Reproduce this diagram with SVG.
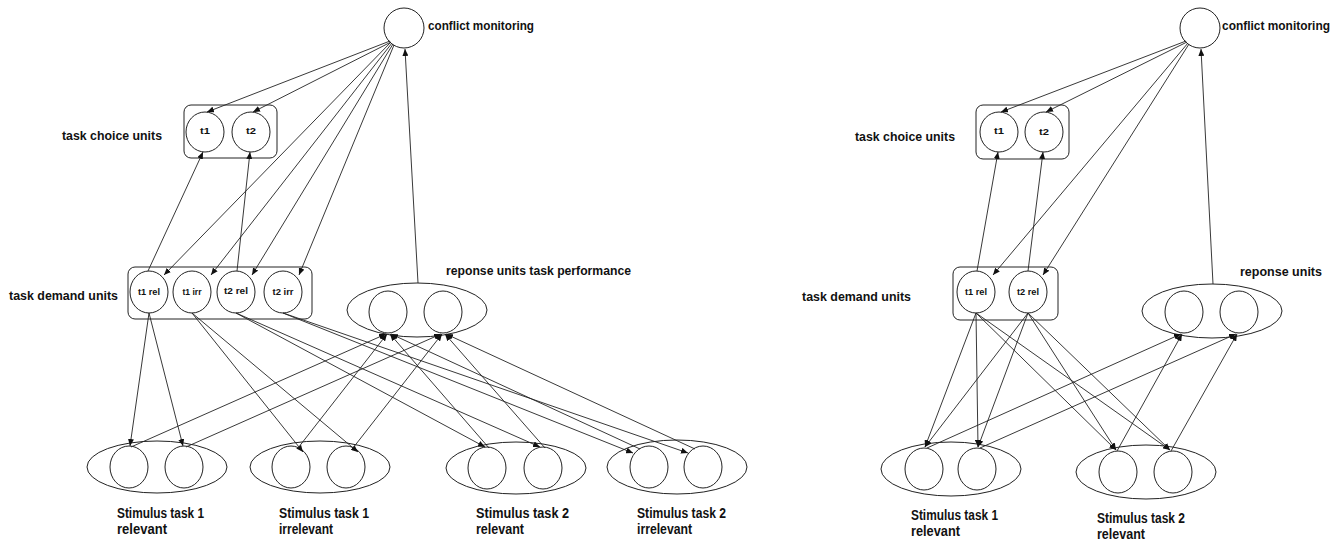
<svg xmlns="http://www.w3.org/2000/svg" width="1339" height="540" viewBox="0 0 1339 540">
<defs>
<marker id="arr" markerUnits="userSpaceOnUse" markerWidth="7" markerHeight="6" refX="7" refY="3" orient="auto">
<path d="M0,0 L7,3 L0,6 z" fill="#111"/>
</marker>
<style>
.u{fill:#fff;stroke:#222;stroke-width:1}
.g{fill:none;stroke:#222;stroke-width:1}
.c line{stroke:#222;stroke-width:0.9;marker-end:url(#arr)}
.lb{font-family:"Liberation Sans",Arial,sans-serif;font-weight:bold;font-size:13px;fill:#111}
.st{font-family:"Liberation Sans",Arial,sans-serif;font-weight:bold;font-size:14px;fill:#111}
.sm{font-family:"Liberation Sans",Arial,sans-serif;font-weight:bold;font-size:9px;fill:#111;text-anchor:middle}
</style>
</defs>
<rect width="1339" height="540" fill="#fff"/>

<!-- LEFT DIAGRAM -->
<g id="L_conflict">
<ellipse class="u" cx="404" cy="28" rx="20" ry="20"/>
<text class="lb" x="428" y="30" textLength="106" lengthAdjust="spacingAndGlyphs">conflict monitoring</text>
</g>
<g id="L_taskchoice">
<rect class="g" x="184" y="105" width="93" height="53" rx="7"/>
<ellipse class="u" cx="205" cy="132" rx="19" ry="20"/>
<ellipse class="u" cx="251" cy="132" rx="19" ry="20"/>
<text class="sm" x="205" y="134" textLength="10" lengthAdjust="spacingAndGlyphs">t1</text>
<text class="sm" x="251" y="134" textLength="10" lengthAdjust="spacingAndGlyphs">t2</text>
<text class="lb" x="62" y="140" textLength="100" lengthAdjust="spacingAndGlyphs">task choice units</text>
</g>
<g id="L_taskdemand">
<rect class="g" x="128" y="267" width="184" height="52" rx="7"/>
<ellipse class="u" cx="149" cy="292" rx="19" ry="21"/>
<ellipse class="u" cx="192" cy="292" rx="19" ry="21"/>
<ellipse class="u" cx="236" cy="292" rx="19" ry="21"/>
<ellipse class="u" cx="283" cy="292" rx="19" ry="21"/>
<text class="sm" x="149" y="295" font-size="8" textLength="22" lengthAdjust="spacingAndGlyphs">t1 rel</text>
<text class="sm" x="192" y="295" font-size="8" textLength="19" lengthAdjust="spacingAndGlyphs">t1 irr</text>
<text class="sm" x="236" y="294" font-size="8" textLength="24" lengthAdjust="spacingAndGlyphs">t2 rel</text>
<text class="sm" x="283" y="295" font-size="8" textLength="21" lengthAdjust="spacingAndGlyphs">t2 irr</text>
<text class="lb" x="9" y="300" textLength="109" lengthAdjust="spacingAndGlyphs">task demand units</text>
</g>
<g id="L_response">
<ellipse class="u" cx="417" cy="310" rx="70" ry="27"/>
<ellipse class="u" cx="388" cy="312" rx="19" ry="21"/>
<ellipse class="u" cx="443" cy="312" rx="19" ry="21"/>
<text class="lb" x="446" y="275" textLength="185" lengthAdjust="spacingAndGlyphs">reponse units task performance</text>
</g>
<g id="L_stim1">
<ellipse class="u" cx="157" cy="467" rx="70" ry="26"/>
<ellipse class="u" cx="129" cy="467" rx="19" ry="21"/>
<ellipse class="u" cx="184" cy="467" rx="19" ry="21"/>
<text class="st" x="117" y="518" textLength="87" lengthAdjust="spacingAndGlyphs">Stimulus task 1</text>
<text class="st" x="117" y="534" textLength="50" lengthAdjust="spacingAndGlyphs">relevant</text>
</g>
<g id="L_stim2">
<ellipse class="u" cx="320" cy="467" rx="70" ry="26"/>
<ellipse class="u" cx="291" cy="467" rx="19" ry="21"/>
<ellipse class="u" cx="346" cy="467" rx="19" ry="21"/>
<text class="st" x="279" y="518" textLength="90" lengthAdjust="spacingAndGlyphs">Stimulus  task 1</text>
<text class="st" x="279" y="534" textLength="54" lengthAdjust="spacingAndGlyphs">irrelevant</text>
</g>
<g id="L_stim3">
<ellipse class="u" cx="516" cy="468" rx="70" ry="26"/>
<ellipse class="u" cx="487" cy="468" rx="19" ry="21"/>
<ellipse class="u" cx="543" cy="468" rx="19" ry="21"/>
<text class="st" x="476" y="518" textLength="93" lengthAdjust="spacingAndGlyphs">Stimulus  task 2</text>
<text class="st" x="476" y="534" textLength="48" lengthAdjust="spacingAndGlyphs">relevant</text>
</g>
<g id="L_stim4">
<ellipse class="u" cx="677" cy="467" rx="70" ry="27"/>
<ellipse class="u" cx="649" cy="467" rx="19" ry="21"/>
<ellipse class="u" cx="703" cy="467" rx="19" ry="21"/>
<text class="st" x="637" y="518" textLength="89" lengthAdjust="spacingAndGlyphs">Stimulus task 2</text>
<text class="st" x="637" y="534" textLength="55" lengthAdjust="spacingAndGlyphs">irrelevant</text>
</g>

<!-- RIGHT DIAGRAM -->
<g id="R_conflict">
<ellipse class="u" cx="1200" cy="28" rx="20" ry="20"/>
<text class="lb" x="1222" y="30" textLength="108" lengthAdjust="spacingAndGlyphs">conflict monitoring</text>
</g>
<g id="R_taskchoice">
<rect class="g" x="976" y="105" width="93" height="54" rx="7"/>
<ellipse class="u" cx="999" cy="132" rx="19" ry="20"/>
<ellipse class="u" cx="1044" cy="132" rx="19" ry="20"/>
<text class="sm" x="999" y="134" textLength="10" lengthAdjust="spacingAndGlyphs">t1</text>
<text class="sm" x="1044" y="135" textLength="10" lengthAdjust="spacingAndGlyphs">t2</text>
<text class="lb" x="855" y="141" textLength="100" lengthAdjust="spacingAndGlyphs">task choice units</text>
</g>
<g id="R_taskdemand">
<rect class="g" x="953" y="267" width="105" height="53" rx="7"/>
<ellipse class="u" cx="976" cy="292" rx="19" ry="21"/>
<ellipse class="u" cx="1028" cy="292" rx="19" ry="21"/>
<text class="sm" x="976" y="295" font-size="8" textLength="22" lengthAdjust="spacingAndGlyphs">t1 rel</text>
<text class="sm" x="1028" y="295" font-size="8" textLength="22" lengthAdjust="spacingAndGlyphs">t2 rel</text>
<text class="lb" x="802" y="301" textLength="109" lengthAdjust="spacingAndGlyphs">task demand units</text>
</g>
<g id="R_response">
<ellipse class="u" cx="1212" cy="311" rx="70" ry="27"/>
<ellipse class="u" cx="1184" cy="312" rx="19" ry="21"/>
<ellipse class="u" cx="1239" cy="312" rx="19" ry="21"/>
<text class="lb" x="1240" y="276" textLength="82" lengthAdjust="spacingAndGlyphs">reponse units</text>
</g>
<g id="R_stim1">
<ellipse class="u" cx="951" cy="469" rx="70" ry="27"/>
<ellipse class="u" cx="924" cy="469" rx="19" ry="21"/>
<ellipse class="u" cx="977" cy="469" rx="19" ry="21"/>
<text class="st" x="911" y="520" textLength="87" lengthAdjust="spacingAndGlyphs">Stimulus task 1</text>
<text class="st" x="911" y="536" textLength="49" lengthAdjust="spacingAndGlyphs">relevant</text>
</g>
<g id="R_stim2">
<ellipse class="u" cx="1146" cy="472" rx="70" ry="27"/>
<ellipse class="u" cx="1118" cy="472" rx="19" ry="21"/>
<ellipse class="u" cx="1173" cy="472" rx="19" ry="21"/>
<text class="st" x="1097" y="523" textLength="88" lengthAdjust="spacingAndGlyphs">Stimulus task 2</text>
<text class="st" x="1097" y="539" textLength="48" lengthAdjust="spacingAndGlyphs">relevant</text>
</g>

<g id="connectors" class="c">
<!-- left: conflict monitoring outputs -->
<line x1="390" y1="41" x2="207" y2="112"/>
<line x1="391" y1="42" x2="253" y2="112"/>
<line x1="391" y1="42" x2="164" y2="275"/>
<line x1="392" y1="43" x2="211" y2="275"/>
<line x1="393" y1="44" x2="252" y2="275"/>
<line x1="394" y1="45" x2="299" y2="275"/>
<!-- left: demand to choice -->
<line x1="148" y1="271" x2="203" y2="152"/>
<line x1="237" y1="271" x2="250" y2="152"/>
<!-- left: response to conflict -->
<line x1="418" y1="283" x2="405" y2="49"/>
<!-- left: demand to stimulus -->
<line x1="149" y1="313" x2="130" y2="446"/>
<line x1="149" y1="313" x2="183" y2="446"/>
<line x1="192" y1="313" x2="303" y2="452"/>
<line x1="192" y1="313" x2="358" y2="452"/>
<line x1="236" y1="313" x2="485" y2="447"/>
<line x1="236" y1="313" x2="540" y2="447"/>
<line x1="283" y1="313" x2="633" y2="453"/>
<line x1="283" y1="313" x2="688" y2="453"/>
<!-- left: stimulus to response -->
<line x1="131" y1="447" x2="386" y2="334"/>
<line x1="186" y1="447" x2="441" y2="334"/>
<line x1="298" y1="448" x2="387" y2="334"/>
<line x1="353" y1="448" x2="442" y2="334"/>
<line x1="489" y1="448" x2="390" y2="334"/>
<line x1="545" y1="448" x2="445" y2="334"/>
<line x1="640" y1="449" x2="391" y2="334"/>
<line x1="695" y1="449" x2="446" y2="334"/>

<!-- right: conflict monitoring outputs -->
<line x1="1186" y1="41" x2="1001" y2="112"/>
<line x1="1187" y1="42" x2="1046" y2="112"/>
<line x1="1188" y1="43" x2="993" y2="275"/>
<line x1="1189" y1="44" x2="1043" y2="275"/>
<!-- right: demand to choice -->
<line x1="977" y1="271" x2="998" y2="152"/>
<line x1="1028" y1="271" x2="1043" y2="152"/>
<!-- right: response to conflict -->
<line x1="1213" y1="284" x2="1201" y2="49"/>
<!-- right: demand to stimulus -->
<line x1="976" y1="313" x2="925" y2="447"/>
<line x1="976" y1="313" x2="978" y2="447"/>
<line x1="976" y1="313" x2="1116" y2="450"/>
<line x1="976" y1="313" x2="1170" y2="450"/>
<line x1="1028" y1="313" x2="925" y2="447"/>
<line x1="1028" y1="313" x2="978" y2="447"/>
<line x1="1028" y1="313" x2="1116" y2="450"/>
<line x1="1028" y1="313" x2="1170" y2="450"/>
<!-- right: stimulus to response -->
<line x1="927" y1="448" x2="1181" y2="334"/>
<line x1="980" y1="448" x2="1236" y2="334"/>
<line x1="1117" y1="451" x2="1182" y2="334"/>
<line x1="1171" y1="451" x2="1237" y2="334"/>
</g>
</svg>
